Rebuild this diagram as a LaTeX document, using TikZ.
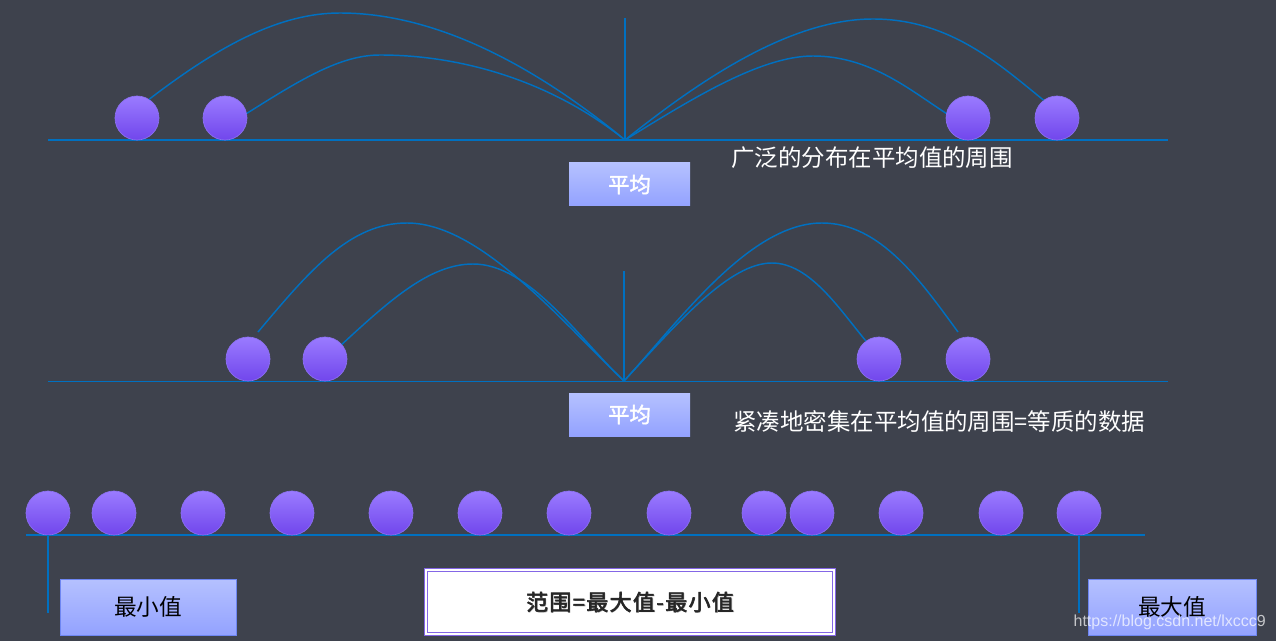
\documentclass[tikz,border=0pt]{standalone}
\usepackage{fontspec}
\setmainfont{Liberation Sans}
\newfontfamily\cjk{Noto Sans CJK SC}
\newfontfamily\cjkb{Noto Sans CJK SC}[FakeBold=2]
\newfontfamily\cjkr{Noto Sans CJK SC}[FakeBold=2.5,LetterSpace=6]
\newfontfamily\cjkrs{Noto Sans CJK SC}[LetterSpace=6]
\definecolor{bg}{HTML}{3E424D}
\definecolor{lineblue}{HTML}{0070C0}
\definecolor{balltop}{HTML}{9A7BFF}
\definecolor{ballbot}{HTML}{7146EC}
\definecolor{ballborder}{HTML}{8C70F2}
\definecolor{boxtop}{HTML}{B5C1FF}
\definecolor{boxbot}{HTML}{93A2FF}
\definecolor{boxborder}{HTML}{6E86F2}
\definecolor{rangeborder}{HTML}{8466E6}
\tikzset{
  ball/.style={circle, minimum size=33pt, inner sep=0pt, top color=balltop, bottom color=ballbot, draw=ballborder, line width=0.5pt},
  arc/.style={draw=lineblue, line width=1.1pt},
  axis/.style={draw=lineblue, line width=1.1pt},
  avgbox/.style={rectangle, minimum width=90.75pt, minimum height=32.25pt, inner sep=0pt, top color=boxtop, bottom color=boxbot, text=white, font=\cjkb\fontsize{16}{18}\selectfont},
  valbox/.style={rectangle, minimum height=42pt, inner sep=0pt, top color=boxtop, bottom color=boxbot, draw=boxborder, line width=0.6pt, text=black, font=\cjk\fontsize{17}{19}\selectfont},
  note/.style={text=white, inner sep=0pt, anchor=west, font=\cjk\fontsize{17.6}{20}\selectfont}
}
\begin{document}
\begin{tikzpicture}[x=0.75pt,y=-0.75pt]
\fill[bg] (0,0) rectangle (1276,641);
\useasboundingbox (0,0) rectangle (1276,641);

% ---------- top section ----------
\coordinate (tL) at (48,140);
\coordinate (tR) at (1168,140);
\coordinate (tC) at (625,140);
\coordinate (tV) at (625,18);
\draw[axis] (tL) -- (tR);
\draw[axis] (tC) -- (tV);
\node[ball] (t1) at (137,118) {};
\node[ball] (t2) at (225,118) {};
\node[ball] (t3) at (968,118) {};
\node[ball] (t4) at (1057,118) {};
\draw[arc] (t1.57) .. controls (220,45) and (280,13) .. (340,13) .. controls (440,13) and (540,70) .. (tC);
\draw[arc] (t2.12) .. controls (300,80) and (340,55) .. (380,55) .. controls (460,55) and (550,80) .. (tC);
\draw[arc] (tC) .. controls (700,80) and (790,19) .. (873,19) .. controls (950,19) and (1000,65) .. (t4.127);
\draw[arc] (tC) .. controls (690,100) and (760,56) .. (813,56) .. controls (870,56) and (910,90) .. (t3.168);
\node[avgbox] (avg1) at (629.5,184.5) {平均};
\node[note] (n1) at (731,158) {广泛的分布在平均值的周围};

% ---------- middle section ----------
\coordinate (mL) at (48,381);
\coordinate (mR) at (1168,381);
\coordinate (mC) at (624,381);
\coordinate (mV) at (624,271);
\draw[draw=lineblue, line width=0.7pt] (mL) -- (mR);
\draw[axis] (mC) -- (mV);
\node[ball] (m1) at (248,359) {};
\node[ball] (m2) at (325,359) {};
\node[ball] (m3) at (879,359) {};
\node[ball] (m4) at (968,359) {};
\coordinate (a1) at (258,332);
\coordinate (a4) at (958,332);
\draw[arc] (a1) .. controls (310,270) and (350,223) .. (407,223) .. controls (480,223) and (560,320) .. (mC);
\draw[arc] (m2.41) .. controls (390,300) and (430,264) .. (473,264) .. controls (530,264) and (580,340) .. (mC);
\draw[arc] (mC) .. controls (680,320) and (750,223) .. (822,223) .. controls (880,223) and (920,280) .. (a4);
\draw[arc] (mC) .. controls (680,320) and (730,263) .. (772,263) .. controls (810,263) and (840,310) .. (m3.126);
\node[avgbox] (avg2) at (629.5,414.5) {平均};
\node[note] (n2) at (733,422) {紧凑地密集在平均值的周围=等质的数据};

% ---------- bottom section ----------
\coordinate (bL) at (26,535);
\coordinate (bR) at (1145,535);
\draw[axis] (bL) -- (bR);
\foreach \i/\x in {1/48,2/114,3/203,4/292,5/391,6/480,7/569,8/669,9/764,10/812,11/901,12/1001,13/1079}
  \node[ball] (b\i) at (\x,513) {};
\coordinate (minEnd) at (48,613);
\coordinate (maxEnd) at (1079,613);
\draw[axis] (b1.south) -- (minEnd);
\draw[axis] (b13.south) -- (maxEnd);
\node[valbox, minimum width=132pt] (min) at (148,607) {最小值};
\node[valbox, minimum width=126pt] (max) at (1172,607) {最大值};
\node[rectangle, minimum width=306pt, minimum height=48pt, fill=white, draw=rangeborder, double=white, double distance=1.2pt, line width=0.9pt] (range) at (630,602) {};
\node[text=black!40, font=\cjkrs\fontsize{16.5}{18}\selectfont, inner sep=0pt] at ([xshift=1pt,yshift=-1pt]range.center) {范围=最大值-最小值};
\node[text=black!85, font=\cjkr\fontsize{16.5}{18}\selectfont, inner sep=0pt] (rangetext) at (range.center) {范围=最大值-最小值};

% watermark
\node[text=white, opacity=0.7, font=\fontsize{12}{14}\selectfont, inner sep=0pt, anchor=east] (wm) at (1266,622) {https://blog.csdn.net/lxccc9};
\end{tikzpicture}
\end{document}
